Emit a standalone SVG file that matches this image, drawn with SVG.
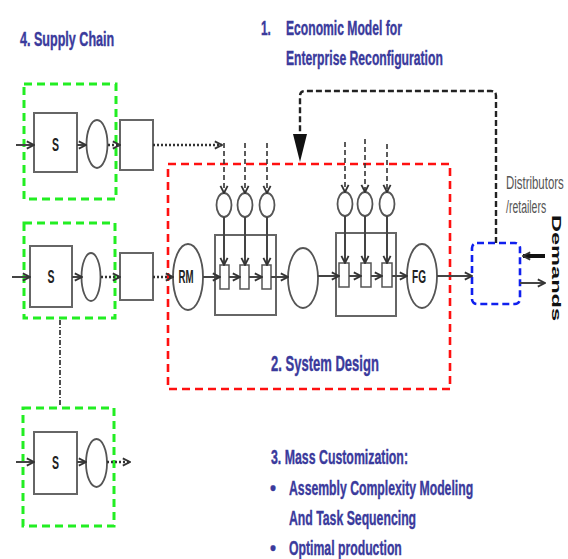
<svg xmlns="http://www.w3.org/2000/svg" width="568" height="559" viewBox="0 0 568 559">
<style>
.bg{fill:#fff}
.box{fill:#fff;stroke:#666;stroke-width:2}
.ell{fill:#fff;stroke:#555;stroke-width:1.8}
.sq{fill:#fff;stroke:#555;stroke-width:1.5}
.ln{fill:none;stroke:#444;stroke-width:2}
.dot{fill:none;stroke:#333;stroke-width:2.5;stroke-dasharray:2 2}
.dsh{fill:none;stroke:#333;stroke-width:1.6;stroke-dasharray:5 3}
.green{fill:none;stroke:#22ee22;stroke-width:3;stroke-dasharray:8 5}
.red{fill:none;stroke:#ff1010;stroke-width:2.6;stroke-dasharray:8 5}
.blue{fill:none;stroke:#1020ee;stroke-width:2.6;stroke-dasharray:7 4}
.fb{fill:none;stroke:#222;stroke-width:2.4;stroke-dasharray:6 3}
.dd{fill:none;stroke:#222;stroke-width:1.6;stroke-dasharray:5 2 1 2}
.h{font-family:"Liberation Sans",Arial,sans-serif;font-weight:bold;fill:#3a3a9c;stroke:#3a3a9c;stroke-width:0.4}
.lb{font-family:"Liberation Sans",Arial,sans-serif;font-weight:bold;fill:#222;text-anchor:middle}
.gr{font-family:"Liberation Sans",Arial,sans-serif;fill:#555}
</style>
<defs>
<marker id="chev" viewBox="0 0 10 10" refX="9" refY="5" markerWidth="9" markerHeight="10" markerUnits="userSpaceOnUse" orient="auto">
<path d="M1,1 L9,5 L1,9" fill="none" stroke="#333" stroke-width="2"/>
</marker>
</defs>
<rect class="bg" x="0" y="0" width="568" height="559"/>

<g id="labels">
<text class="h" transform="translate(20,46) scale(0.62,1)" font-size="20" textLength="152" lengthAdjust="spacingAndGlyphs">4.  Supply Chain</text>
<text class="h" transform="translate(261,35) scale(0.62,1)" font-size="21" textLength="16" lengthAdjust="spacingAndGlyphs">1.</text>
<text class="h" transform="translate(286,35) scale(0.62,1)" font-size="21" textLength="187" lengthAdjust="spacingAndGlyphs">Economic Model for</text>
<text class="h" transform="translate(286,65) scale(0.62,1)" font-size="21" textLength="253" lengthAdjust="spacingAndGlyphs">Enterprise Reconfiguration</text>
<text class="h" transform="translate(271,371) scale(0.62,1)" font-size="22" textLength="174" lengthAdjust="spacingAndGlyphs">2.  System Design</text>
<text class="h" transform="translate(271,464) scale(0.62,1)" font-size="21" textLength="221" lengthAdjust="spacingAndGlyphs">3.  Mass Customization:</text>
<text class="h" x="270" y="495" font-size="21" textLength="6" lengthAdjust="spacingAndGlyphs">•</text>
<text class="h" transform="translate(289,495) scale(0.62,1)" font-size="21" textLength="297" lengthAdjust="spacingAndGlyphs">Assembly Complexity Modeling</text>
<text class="h" transform="translate(289,525) scale(0.62,1)" font-size="21" textLength="205" lengthAdjust="spacingAndGlyphs">And Task Sequencing</text>
<text class="h" x="270" y="555" font-size="21" textLength="6" lengthAdjust="spacingAndGlyphs">•</text>
<text class="h" transform="translate(289,555) scale(0.62,1)" font-size="21" textLength="182" lengthAdjust="spacingAndGlyphs">Optimal production</text>
<text class="gr" transform="translate(506,189) scale(0.55,1)" font-size="19" textLength="105" lengthAdjust="spacingAndGlyphs">Distributors</text>
<text class="gr" transform="translate(506,213) scale(0.55,1)" font-size="19" textLength="73" lengthAdjust="spacingAndGlyphs">/retailers</text>
<text font-family="Liberation Sans, Arial, sans-serif" font-weight="bold" font-size="22" fill="#111" transform="translate(552,215) scale(0.6,1) rotate(90)" textLength="106" lengthAdjust="spacingAndGlyphs">Demands</text>
</g>

<g id="regions">
<rect id="supply1" class="green" x="24" y="84" width="92" height="115"/>
<rect id="supply2" class="green" x="24" y="223" width="91" height="95"/>
<rect id="supply3" class="green" x="23" y="408" width="91" height="118"/>
<rect id="system" class="red" x="168" y="164" width="282" height="225"/>
<rect id="distributor" class="blue" x="472" y="243" width="48" height="61" rx="5"/>
</g>

<g id="n-s1"><rect class="box" x="34" y="113" width="43" height="59"/><text class="lb" x="55.5" y="151" font-size="18" textLength="7" lengthAdjust="spacingAndGlyphs">S</text></g>
<g id="n-c1"><ellipse class="ell" cx="97" cy="144" rx="10.5" ry="24"/></g>
<g id="n-b1"><rect class="box" x="120" y="120" width="33" height="50"/></g>

<g id="n-s2"><rect class="box" x="30" y="246" width="42" height="61"/><text class="lb" x="51" y="283" font-size="18" textLength="7" lengthAdjust="spacingAndGlyphs">S</text></g>
<g id="n-c2"><ellipse class="ell" cx="91" cy="277" rx="9.5" ry="24"/></g>
<g id="n-b2"><rect class="box" x="120" y="253" width="33" height="47"/></g>

<g id="n-s3"><rect class="box" x="34" y="432" width="43" height="62"/><text class="lb" x="55.5" y="469" font-size="18" textLength="7" lengthAdjust="spacingAndGlyphs">S</text></g>
<g id="n-c3"><ellipse class="ell" cx="96.5" cy="463" rx="10.5" ry="24"/></g>

<g id="n-rm"><ellipse class="ell" cx="188" cy="277" rx="15" ry="33"/><text class="lb" x="186" y="283" font-size="18" textLength="15" lengthAdjust="spacingAndGlyphs">RM</text></g>
<g id="n-asm1">
<rect class="box" x="215" y="235" width="61" height="80"/>
<rect class="sq" x="220" y="265" width="9" height="24"/>
<rect class="sq" x="240" y="265" width="9" height="24"/>
<rect class="sq" x="262" y="265" width="9" height="24"/>
</g>
<g id="n-in1"><ellipse class="ell" cx="224" cy="205" rx="7.5" ry="12"/><ellipse class="ell" cx="245" cy="205" rx="7.5" ry="12"/><ellipse class="ell" cx="267" cy="205" rx="7.5" ry="12"/></g>
<g id="n-buf"><ellipse class="ell" cx="303" cy="278" rx="15" ry="30"/></g>
<g id="n-asm2">
<rect class="box" x="336" y="233" width="60" height="83"/>
<rect class="sq" x="339" y="263" width="10" height="24"/>
<rect class="sq" x="361" y="263" width="10" height="24"/>
<rect class="sq" x="382" y="263" width="10" height="24"/>
</g>
<g id="n-in2"><ellipse class="ell" cx="345" cy="204" rx="7.5" ry="12"/><ellipse class="ell" cx="365" cy="204" rx="7.5" ry="12"/><ellipse class="ell" cx="387" cy="204" rx="7.5" ry="12"/></g>
<g id="n-fg"><ellipse class="ell" cx="422" cy="276" rx="15" ry="32"/><text class="lb" x="419" y="283" font-size="18" textLength="14" lengthAdjust="spacingAndGlyphs">FG</text></g>

<g id="connectors">
<line class="ln" x1="16" y1="145" x2="34" y2="145" marker-end="url(#chev)"/>
<line class="ln" x1="77" y1="145" x2="86" y2="145" marker-end="url(#chev)"/>
<line class="dot" x1="108" y1="145" x2="120" y2="145" marker-end="url(#chev)"/>
<line class="dot" x1="153" y1="145" x2="222" y2="145" marker-end="url(#chev)"/>
<line class="ln" x1="12" y1="277" x2="30" y2="277" marker-end="url(#chev)"/>
<line class="ln" x1="72" y1="277" x2="82" y2="277" marker-end="url(#chev)"/>
<line class="dot" x1="101" y1="277" x2="120" y2="277" marker-end="url(#chev)"/>
<line class="dot" x1="153" y1="277" x2="173" y2="277" marker-end="url(#chev)"/>
<line class="ln" x1="203" y1="277" x2="220" y2="277" marker-end="url(#chev)"/>
<line class="ln" x1="229" y1="277" x2="240" y2="277" marker-end="url(#chev)"/>
<line class="ln" x1="249" y1="277" x2="262" y2="277" marker-end="url(#chev)"/>
<line class="ln" x1="271" y1="277" x2="288" y2="277" marker-end="url(#chev)"/>
<line class="ln" x1="318" y1="276" x2="339" y2="276" marker-end="url(#chev)"/>
<line class="ln" x1="349" y1="276" x2="361" y2="276" marker-end="url(#chev)"/>
<line class="ln" x1="371" y1="276" x2="382" y2="276" marker-end="url(#chev)"/>
<line class="ln" x1="392" y1="276" x2="407" y2="276" marker-end="url(#chev)"/>
<line class="ln" x1="437" y1="276" x2="472" y2="276" marker-end="url(#chev)"/>
<line class="dsh" x1="224" y1="143" x2="224" y2="193" marker-end="url(#chev)"/>
<line class="dsh" x1="245" y1="143" x2="245" y2="193" marker-end="url(#chev)"/>
<line class="dsh" x1="267" y1="143" x2="267" y2="193" marker-end="url(#chev)"/>
<line class="ln" x1="224" y1="217" x2="224" y2="265" marker-end="url(#chev)"/>
<line class="ln" x1="245" y1="217" x2="245" y2="265" marker-end="url(#chev)"/>
<line class="ln" x1="267" y1="217" x2="267" y2="265" marker-end="url(#chev)"/>
<line class="dsh" x1="345" y1="142" x2="345" y2="192" marker-end="url(#chev)"/>
<line class="dsh" x1="365" y1="139" x2="365" y2="192" marker-end="url(#chev)"/>
<line class="dsh" x1="387" y1="144" x2="387" y2="192" marker-end="url(#chev)"/>
<line class="ln" x1="345" y1="216" x2="345" y2="263" marker-end="url(#chev)"/>
<line class="ln" x1="365" y1="216" x2="365" y2="263" marker-end="url(#chev)"/>
<line class="ln" x1="387" y1="216" x2="387" y2="263" marker-end="url(#chev)"/>
<line class="ln" x1="16" y1="462" x2="34" y2="462" marker-end="url(#chev)"/>
<line class="ln" x1="77" y1="462" x2="86" y2="462" marker-end="url(#chev)"/>
<line class="dot" x1="107" y1="462" x2="130" y2="462" marker-end="url(#chev)"/>
<line class="dd" x1="60" y1="320" x2="60" y2="406"/>
<path class="fb" d="M496,243 V96 Q496,91 491,91 H305 Q300,91 300,96 V134"/>
<polygon points="293,134 307,134 300,162" fill="#111"/>
<line x1="545" y1="256" x2="523" y2="256" stroke="#111" stroke-width="4" marker-end="url(#chev)"/>
<line class="ln" x1="520" y1="283" x2="545" y2="283" marker-end="url(#chev)"/>
</g>
</svg>
